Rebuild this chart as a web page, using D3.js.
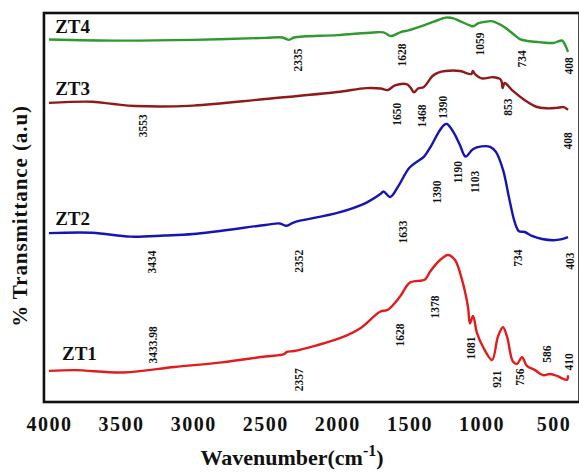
<!DOCTYPE html>
<html><head><meta charset="utf-8">
<script src="https://cdn.jsdelivr.net/npm/d3@7"></script>
<style>
html,body{margin:0;padding:0;background:#fff;}
svg{display:block;}
text{font-family:"Liberation Serif","Times New Roman",serif;font-weight:bold;fill:#111;}
</style></head>
<body>
<svg id="chart" width="579" height="472"></svg>
<script>
// ---------- data (wavenumber cm-1, transmittance a.u.) ----------
const seriesNames = ["ZT4", "ZT3", "ZT2", "ZT1"];
const seriesColors = ["#2e9a2e", "#8e1a1a", "#1515b4", "#e21c1c"];

const zt4 = [[4000,93.2],[3500,92.9],[3000,93.1],[2500,93.6],[2380,93.7],[2335,93.1],[2300,93.7],[2000,94.3],[1750,95.0],[1680,95.0],[1628,94.1],[1560,95.1],[1500,95.6],[1400,96.8],[1300,98.2],[1250,98.8],[1200,98.7],[1150,97.9],[1080,96.8],[1059,96.6],[1020,97.4],[980,97.7],[930,97.9],[880,97.2],[830,96.1],[780,94.6],[734,93.3],[680,92.8],[600,92.5],[500,92.3],[460,92.8],[440,92.9],[420,91.8],[400,90.0]];

const zt3 = [[4000,76.9],[3700,77.2],[3553,76.6],[3400,76.1],[3000,76.2],[2500,77.9],[2000,79.7],[1800,80.7],[1700,80.6],[1650,80.2],[1600,81.4],[1520,81.7],[1490,80.7],[1468,79.6],[1440,80.6],[1400,81.0],[1340,83.8],[1300,84.7],[1250,85.1],[1150,85.1],[1070,84.3],[1060,85.1],[1045,84.3],[1000,83.2],[920,83.5],[870,83.0],[860,82.3],[853,80.7],[840,82.0],[780,79.9],[700,77.6],[620,75.9],[550,75.5],[480,75.6],[430,75.8],[400,75.1]];

const zt2 = [[4000,43.4],[3700,43.5],[3434,42.5],[3200,42.8],[3000,43.2],[2500,45.5],[2400,45.9],[2352,45.3],[2300,46.2],[2000,48.6],[1800,51.2],[1700,53.5],[1680,54.1],[1633,52.7],[1580,55.3],[1500,60.2],[1430,62.2],[1400,63.0],[1350,65.8],[1300,69.2],[1260,71.2],[1240,71.5],[1200,69.7],[1180,68.4],[1150,66.1],[1110,63.1],[1060,65.0],[1000,65.7],[940,65.6],[900,64.3],[850,59.6],[810,52.7],[770,46.3],[740,43.9],[700,43.7],[650,42.7],[580,41.9],[500,41.6],[450,41.8],[400,42.4]];

const zt1 = [[4000,8.0],[3820,8.2],[3480,7.6],[3130,9.0],[2800,10.2],[2500,11.7],[2370,12.3],[2350,12.9],[2300,13.1],[2150,14.5],[1982,16.4],[1843,18.9],[1704,23.2],[1649,23.7],[1565,27.1],[1496,30.7],[1392,31.5],[1357,33.5],[1288,36.5],[1233,37.8],[1184,36.5],[1135,31.4],[1094,24.5],[1080,20.2],[1059,22.1],[1031,17.7],[990,14.2],[927,10.8],[886,16.8],[851,19.2],[823,16.8],[782,10.4],[754,9.8],[719,11.5],[685,9.3],[629,8.2],[573,6.9],[525,7.2],[476,6.7],[442,6.1],[407,5.7],[400,6.9]];

const seriesData = [zt4, zt3, zt2, zt1];

// series name label anchors [wavenumber, value]
const nameAnchors = [[3957,94.9],[3957,78.9],[3957,45.5],[3910,10.8]];

// peak annotations: [series index, text, wavenumber, value]
const peakLabels = [
  [0,"2335",2273,87.9],[0,"1628",1551,89.2],[0,"1059",1010,92.0],[0,"734",719,88.2],[0,"408",393,86.4],
  [1,"3553",3348,71.0],[1,"1650",1586,74.0],[1,"1468",1413,73.5],[1,"1390",1267,75.8],[1,"853",816,75.8],[1,"408",400,67.1],
  [2,"3434",3286,36.0],[2,"2352",2266,36.2],[2,"1633",1545,43.7],[2,"1390",1309,54.0],[2,"1190",1163,59.1],[2,"1103",1045,56.6],[2,"734",747,37.0],[2,"403",386,36.2],
  [3,"3433.98",3279,14.7],[3,"2357",2266,5.7],[3,"1628",1565,17.2],[3,"1378",1323,24.4],[3,"1081",1073,13.9],[3,"921",893,5.9],[3,"756",733,6.4],[3,"586",546,12.3],[3,"410",393,10.3]
];

const xTicks = [4000,3500,3000,2500,2000,1500,1000,500];

// ---------- drawing ----------
const svg = d3.select("#chart");
const x = d3.scaleLinear().domain([4000, 400]).range([49, 568]);
const y = d3.scaleLinear().domain([0, 100]).range([402, 13]);

const line = d3.line().x(d => x(d[0])).y(d => y(d[1])).curve(d3.curveCatmullRom.alpha(0.5));

seriesData.forEach((s, i) => {
  svg.append("path").datum(s)
    .attr("d", line)
    .attr("fill", "none")
    .attr("stroke", seriesColors[i])
    .attr("stroke-width", 2.4)
    .attr("stroke-linejoin", "round");
});

// frame
const fx0 = x(4035), fx1 = x(320), fy0 = y(100), fy1 = y(0);
svg.append("rect").attr("x", fx0).attr("y", fy0)
  .attr("width", fx1 - fx0).attr("height", fy1 - fy0)
  .attr("fill", "none").attr("stroke", "#111").attr("stroke-width", 2.6);

// x axis tick labels
const xAxis = d3.axisBottom(x).tickValues(xTicks).tickSize(0).tickPadding(0).tickFormat(d3.format("d"));
const gx = svg.append("g").attr("transform", `translate(0,${fy1})`).call(xAxis);
gx.select(".domain").remove();
gx.selectAll("text")
  .attr("y", 29).attr("dy", 0)
  .style("font-family", '"Liberation Serif","Times New Roman",serif')
  .style("font-weight", "bold").style("font-size", "20px")
  .style("letter-spacing", "1.5px").attr("fill", "#111");

// x title
const xt = svg.append("text").attr("x", 292).attr("y", 465)
  .attr("text-anchor", "middle").style("font-size", "22px");
xt.append("tspan").text("Wavenumber(cm");
xt.append("tspan").attr("dy", -9).style("font-size", "16px").text("-1");
xt.append("tspan").attr("dy", 9).text(")");

// y title
svg.append("text")
  .attr("transform", "translate(27,216) rotate(-90)")
  .attr("text-anchor", "middle").style("font-size", "21px")
  .style("letter-spacing", "0.9px")
  .text("% Transmittance (a.u)");

// series names
seriesNames.forEach((n, i) => {
  svg.append("text").attr("x", x(nameAnchors[i][0])).attr("y", y(nameAnchors[i][1]))
    .style("font-size", "19px").text(n);
});

// peak labels (rotated)
svg.selectAll("text.peak").data(peakLabels).enter().append("text")
  .attr("class", "peak")
  .attr("transform", d => `translate(${x(d[2])},${y(d[3])}) rotate(-90)`)
  .attr("text-anchor", "middle").attr("dy", "0.35em")
  .style("font-size", "11.5px")
  .text(d => d[1]);
</script>
</body></html>
